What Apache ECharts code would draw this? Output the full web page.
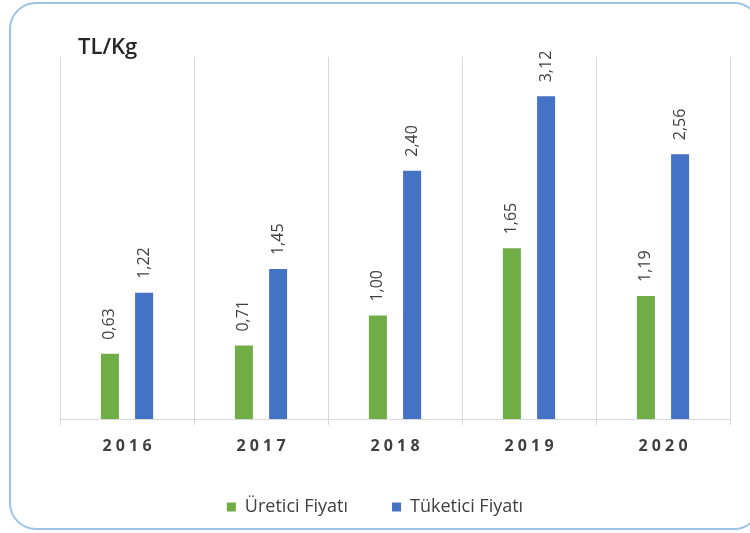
<!DOCTYPE html>
<html>
<head>
<meta charset="utf-8">
<script src="https://cdn.jsdelivr.net/npm/echarts@6/dist/echarts.min.js"></script>
<style>
  html, body { margin: 0; padding: 0; background: #fff; }
  #main { width: 750px; height: 533px; }
</style>
</head>
<body>
<div id="main"></div>
<script>
  // veriler
  var years = ['2016', '2017', '2018', '2019', '2020'];
  var uretici = [0.63, 0.71, 1.00, 1.65, 1.19];
  var tuketici = [1.22, 1.45, 2.40, 3.12, 2.56];

  var myChart = echarts.init(document.getElementById('main'));
  var font = '"Open Sans", "Noto Sans", sans-serif';

  function virgul(p) {
    return p.value.toFixed(2).replace('.', ',');
  }

  var barLabel = {
    show: true,
    position: 'top',
    rotate: 90,
    distance: 14,
    align: 'left',
    verticalAlign: 'middle',
    fontSize: 16,
    color: '#404040',
    fontFamily: font,
    formatter: virgul
  };

  var option = {
    backgroundColor: '#fff',
    textStyle: { fontFamily: font },
    graphic: [{
      type: 'rect',
      shape: { x: 10, y: 3, width: 750, height: 526, r: 26 },
      style: { fill: 'none', stroke: '#9dc3e6', lineWidth: 2 },
      z: -1
    }],
    title: {
      text: 'TL/Kg',
      left: 73,
      top: 32,
      textStyle: { fontSize: 22, fontWeight: 600, color: '#262626', fontFamily: font }
    },
    legend: {
      bottom: 12,
      left: 'center',
      icon: 'rect',
      itemWidth: 9,
      itemHeight: 9,
      itemGap: 44,
      textStyle: { fontSize: 18, color: '#404040', fontFamily: font, padding: [0, 0, 0, 4] },
      data: ['Üretici Fiyatı', 'Tüketici Fiyatı']
    },
    grid: { left: 60, right: 20, top: 57, bottom: 114 },
    xAxis: {
      type: 'category',
      data: years,
      axisLine: { lineStyle: { color: '#d9d9d9', width: 1 } },
      axisTick: { show: true, length: 6, lineStyle: { color: '#d9d9d9' } },
      splitLine: { show: true, lineStyle: { color: '#d9d9d9', width: 1 } },
      axisLabel: {
        margin: 19,
        fontSize: 16,
        fontWeight: 'bold',
        color: '#404040',
        formatter: function (v) { return v.split('').join(' '); }
      }
    },
    yAxis: {
      type: 'value',
      min: 0,
      max: 3.5,
      show: false,
      splitLine: { show: false }
    },
    series: [
      {
        name: 'Üretici Fiyatı',
        type: 'bar',
        data: uretici,
        barWidth: 18,
        barGap: '90%',
        itemStyle: { color: '#70ad47' },
        label: barLabel
      },
      {
        name: 'Tüketici Fiyatı',
        type: 'bar',
        data: tuketici,
        barWidth: 18,
        itemStyle: { color: '#4472c4' },
        label: barLabel
      }
    ]
  };

  myChart.setOption(option);
</script>
</body>
</html>
